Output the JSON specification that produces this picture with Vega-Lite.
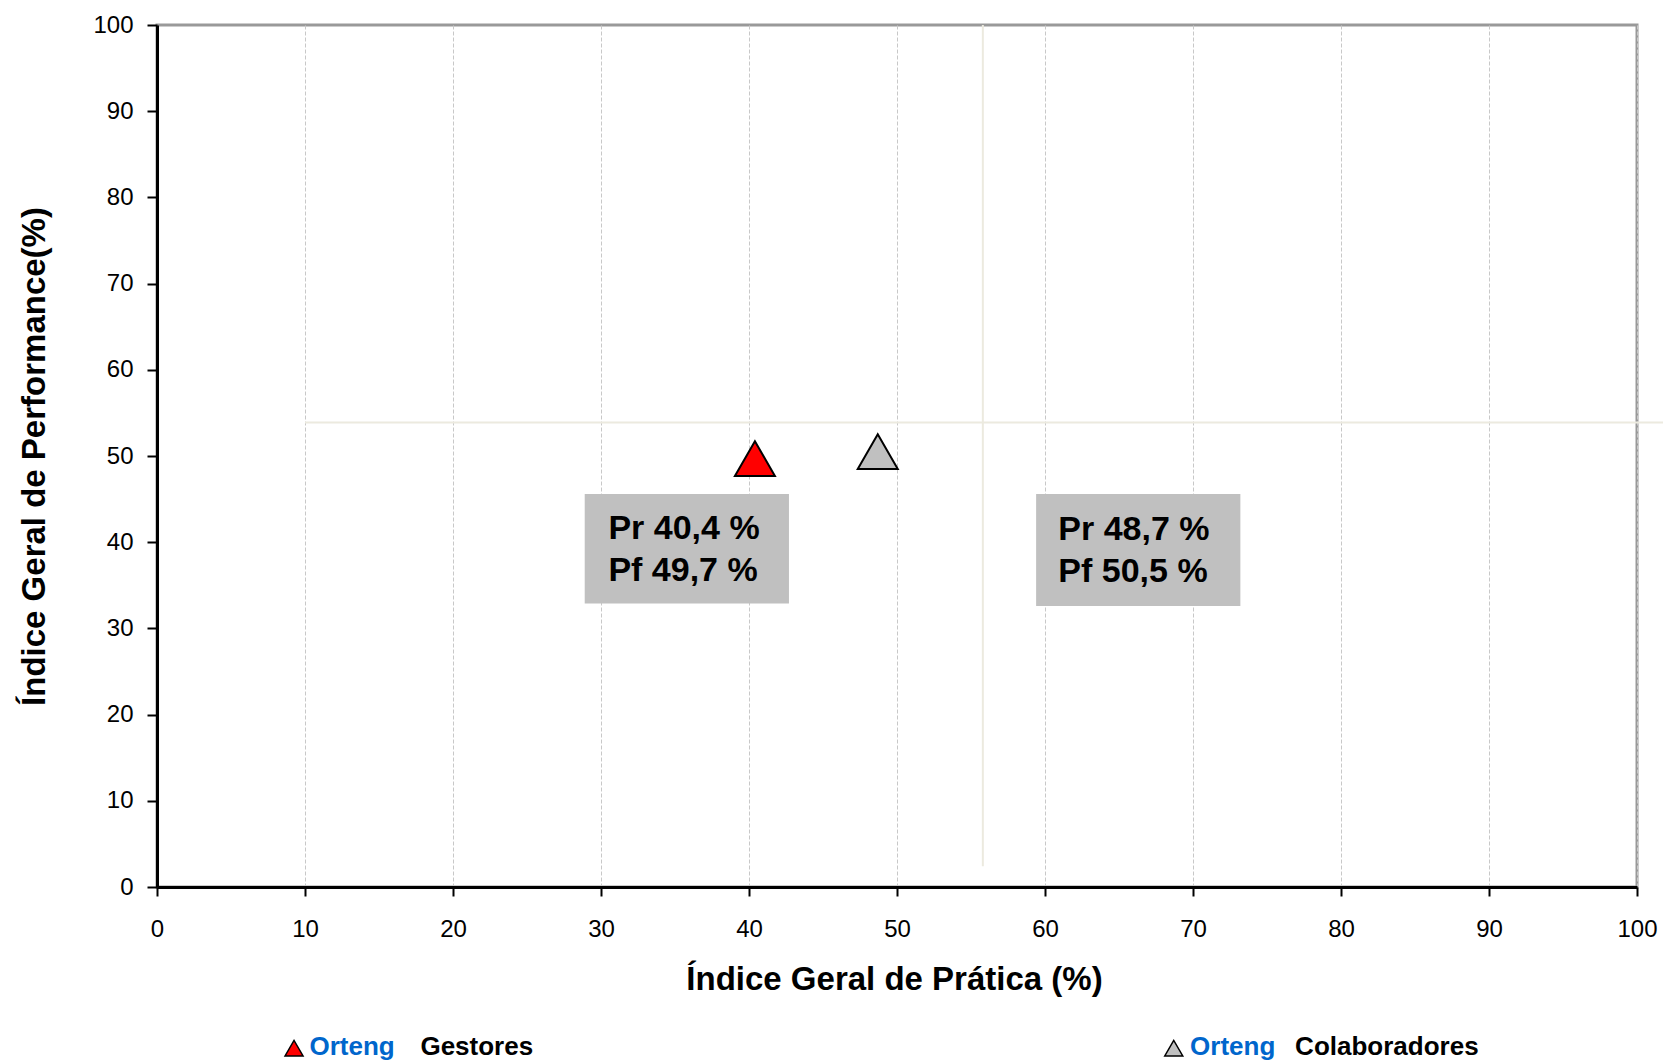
{
  "$schema": "https://vega.github.io/schema/vega-lite/v6.json",
  "width": 1480,
  "height": 862,
  "autosize": {"type": "none"},
  "padding": {"left": 157, "top": 25, "right": 26, "bottom": 174},
  "background": "white",
  "config": {
    "font": "Liberation Sans",
    "view": {"stroke": "#999999", "strokeWidth": 3},
    "axis": {
      "domainColor": "black",
      "domainWidth": 3,
      "tickColor": "black",
      "tickWidth": 2,
      "gridColor": "#c8c8c8",
      "gridDash": [4, 2],
      "gridWidth": 1,
      "labelColor": "black",
      "labelFont": "Liberation Sans",
      "labelFontSize": 24,
      "titleColor": "black",
      "titleFont": "Liberation Sans",
      "titleFontSize": 33,
      "titleFontWeight": "bold"
    }
  },
  "datasets": {
    "pontos": [
      {"grupo": "Gestores", "empresa": "Orteng", "pr": 40.4, "pf": 49.7, "rotulo": "Pr 40,4 %\nPf 49,7 %"},
      {"grupo": "Colaboradores", "empresa": "Orteng", "pr": 48.7, "pf": 50.5, "rotulo": "Pr 48,7 %\nPf 50,5 %"}
    ],
    "referencia": [
      {"pr": 55.8, "pf": 53.9}
    ]
  },
  "data": {"name": "pontos"},
  "layer": [
    {
      "data": {"name": "referencia"},
      "mark": {"type": "rule", "color": "#ECEADF", "strokeWidth": 2},
      "encoding": {
        "x": {"field": "pr", "type": "quantitative", "scale": {"domain": [0, 100], "nice": false, "zero": false},
          "axis": {"values": [0,10,20,30,40,50,60,70,80,90,100], "title": "Índice Geral de Prática (%)", "tickSize": 9, "labelPadding": 21, "titleY": 102, "titleX": 737, "titleBaseline": "alphabetic", "titleAlign": "center", "labelFlush": false}},
        "y": {"datum": 2.4, "type": "quantitative", "scale": {"domain": [0, 100], "nice": false, "zero": false},
          "axis": {"values": [0,10,20,30,40,50,60,70,80,90,100], "title": "Índice Geral de Performance(%)", "tickSize": 10, "labelPadding": 14, "titleX": -113, "titleY": 431, "titleAngle": 270, "titleAlign": "center", "titleBaseline": "alphabetic", "labelFlush": false}},
        "y2": {"datum": 100}
      }
    },
    {
      "data": {"name": "referencia"},
      "mark": {"type": "rule", "color": "#ECEADF", "strokeWidth": 2},
      "encoding": {
        "y": {"field": "pf", "type": "quantitative"},
        "x": {"datum": 10, "type": "quantitative"},
        "x2": {"datum": 102}
      }
    },
    {
      "transform": [{"filter": "datum.grupo === 'Gestores'"}],
      "mark": {"type": "rect", "color": "#C0C0C0"},
      "encoding": {
        "x": {"datum": 28.9, "type": "quantitative"},
        "x2": {"datum": 42.7},
        "y": {"datum": 32.9, "type": "quantitative"},
        "y2": {"datum": 45.6}
      }
    },
    {
      "transform": [{"filter": "datum.grupo === 'Colaboradores'"}],
      "mark": {"type": "rect", "color": "#C0C0C0"},
      "encoding": {
        "x": {"datum": 59.4, "type": "quantitative"},
        "x2": {"datum": 73.2},
        "y": {"datum": 32.6, "type": "quantitative"},
        "y2": {"datum": 45.6}
      }
    },
    {
      "transform": [{"filter": "datum.grupo === 'Gestores'"}],
      "mark": {"type": "text", "font": "Liberation Sans", "fontWeight": "bold", "fontSize": 34, "align": "left", "baseline": "alphabetic", "lineBreak": "\n", "lineHeight": 42, "color": "black"},
      "encoding": {
        "x": {"datum": 30.5, "type": "quantitative"},
        "y": {"datum": 40.4, "type": "quantitative"},
        "text": {"field": "rotulo"}
      }
    },
    {
      "transform": [{"filter": "datum.grupo === 'Colaboradores'"}],
      "mark": {"type": "text", "font": "Liberation Sans", "fontWeight": "bold", "fontSize": 34, "align": "left", "baseline": "alphabetic", "lineBreak": "\n", "lineHeight": 42, "color": "black"},
      "encoding": {
        "x": {"datum": 60.9, "type": "quantitative"},
        "y": {"datum": 40.3, "type": "quantitative"},
        "text": {"field": "rotulo"}
      }
    },
    {
      "mark": {"type": "point", "shape": "triangle-up", "size": 1600, "filled": true, "stroke": "black", "strokeWidth": 2, "opacity": 1},
      "encoding": {
        "x": {"field": "pr", "type": "quantitative"},
        "y": {"field": "pf", "type": "quantitative"},
        "fill": {"field": "grupo", "type": "nominal", "scale": {"domain": ["Gestores", "Colaboradores"], "range": ["#FF0000", "#C0C0C0"]}, "legend": null}
      }
    },
    {
      "transform": [{"filter": "datum.grupo === 'Gestores'"}],
      "mark": {"type": "point", "shape": "triangle-up", "size": 324, "filled": true, "stroke": "black", "strokeWidth": 1.5, "opacity": 1},
      "encoding": {
        "x": {"datum": 9.26, "type": "quantitative"},
        "y": {"datum": -18.7, "type": "quantitative"},
        "fill": {"field": "grupo", "type": "nominal", "legend": null}
      }
    },
    {
      "transform": [{"filter": "datum.grupo === 'Colaboradores'"}],
      "mark": {"type": "point", "shape": "triangle-up", "size": 324, "filled": true, "stroke": "black", "strokeWidth": 1.5, "opacity": 1},
      "encoding": {
        "x": {"datum": 68.7, "type": "quantitative"},
        "y": {"datum": -18.7, "type": "quantitative"},
        "fill": {"field": "grupo", "type": "nominal", "legend": null}
      }
    },
    {
      "transform": [{"filter": "datum.grupo === 'Gestores'"}],
      "mark": {"type": "text", "fontWeight": "bold", "fontSize": 26, "align": "left", "baseline": "alphabetic", "color": "#0066CC"},
      "encoding": {
        "x": {"datum": 10.3, "type": "quantitative"},
        "y": {"datum": -19.5, "type": "quantitative"},
        "text": {"field": "empresa"}
      }
    },
    {
      "transform": [{"filter": "datum.grupo === 'Gestores'"}],
      "mark": {"type": "text", "fontWeight": "bold", "fontSize": 26, "align": "left", "baseline": "alphabetic", "color": "black"},
      "encoding": {
        "x": {"datum": 17.8, "type": "quantitative"},
        "y": {"datum": -19.5, "type": "quantitative"},
        "text": {"field": "grupo"}
      }
    },
    {
      "transform": [{"filter": "datum.grupo === 'Colaboradores'"}],
      "mark": {"type": "text", "fontWeight": "bold", "fontSize": 26, "align": "left", "baseline": "alphabetic", "color": "#0066CC"},
      "encoding": {
        "x": {"datum": 69.8, "type": "quantitative"},
        "y": {"datum": -19.5, "type": "quantitative"},
        "text": {"field": "empresa"}
      }
    },
    {
      "transform": [{"filter": "datum.grupo === 'Colaboradores'"}],
      "mark": {"type": "text", "fontWeight": "bold", "fontSize": 26, "align": "left", "baseline": "alphabetic", "color": "black"},
      "encoding": {
        "x": {"datum": 76.9, "type": "quantitative"},
        "y": {"datum": -19.5, "type": "quantitative"},
        "text": {"field": "grupo"}
      }
    }
  ]
}
